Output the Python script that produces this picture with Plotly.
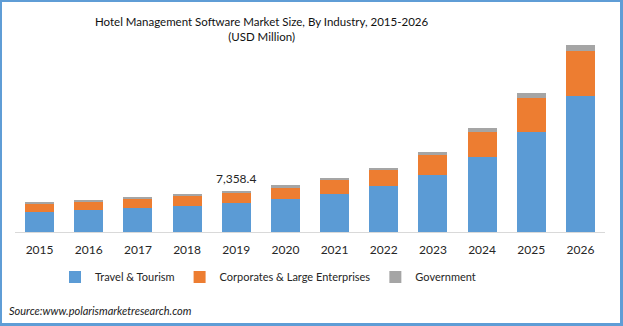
import plotly.graph_objects as go

years = ["2015", "2016", "2017", "2018", "2019", "2020", "2021", "2022", "2023", "2024", "2025", "2026"]
travel = [3620, 3970, 4330, 4680, 5165, 5870, 6820, 8240, 10150, 13350, 17850, 24260]
corporates = [1420, 1420, 1550, 1780, 1780, 1960, 2440, 2790, 3560, 4500, 6050, 8010]
government = [180, 300, 360, 180, 413.4, 530, 360, 410, 530, 660, 890, 1010]
series_names = ["Travel & Tourism", "Corporates & Large Enterprises", "Government"]
colors = ["#5b9bd5", "#ed7d31", "#a5a5a5"]
label_year = "2019"
label_text = "7,358.4"

W, H = 623, 326
L, R, T, B = 15, 18, 40, 94
pw, ph = W - L - R, H - T - B

def px_x(x):
    return (x - L) / pw

def px_y(y):
    return (H - B - y) / ph

FONT = "Lato"

fig = go.Figure()
for name, vals, c in zip(series_names, [travel, corporates, government], colors):
    fig.add_trace(go.Bar(x=years, y=vals, name=name, marker=dict(color=c, line=dict(width=0))))

idx = years.index(label_year)
total = travel[idx] + corporates[idx] + government[idx]

fig.add_annotation(x=idx, y=total, text=label_text, showarrow=False,
                   yanchor="bottom", yshift=3, font=dict(family=FONT, size=12, color="#262626"))

fig.add_annotation(xref="paper", yref="paper", x=px_x(261), y=px_y(29), yanchor="middle",
                   text="Hotel Management Software Market Size, By Industry, 2015-2026<br>(USD Million)",
                   showarrow=False, font=dict(family=FONT, size=11.5, color="#111111"), align="center")

fig.add_annotation(xref="paper", yref="paper", x=px_x(7), y=px_y(310), xanchor="left", yanchor="middle",
                   text="<i>Source:www.polarismarketresearch.com</i>", showarrow=False,
                   font=dict(family=FONT, size=11, color="#1a1a1a"))

bc = "#5f9dd6"
for (x0, y0, x1, y1) in [(0, 0, 2, H), (0, 0, W, 2), (620, 0, W, H), (0, 323, W, H)]:
    fig.add_shape(type="rect", xref="paper", yref="paper",
                  x0=px_x(x0), x1=px_x(x1), y0=px_y(y0), y1=px_y(y1),
                  fillcolor=bc, line=dict(width=0), layer="above")

fig.update_layout(
    width=W, height=H, barmode="stack", bargap=0.41,
    margin=dict(l=L, r=R, t=T, b=B, pad=0, autoexpand=False),
    paper_bgcolor="white", plot_bgcolor="white",
    showlegend=True,
    legend=dict(orientation="h", x=px_x(268), xanchor="center", y=px_y(277), yanchor="middle",
                font=dict(family=FONT, size=11, color="#262626"), traceorder="normal",
                itemwidth=30, tracegroupgap=0, bgcolor="rgba(0,0,0,0)"),
    xaxis=dict(type="category", range=[-0.5, len(years) - 0.5], showgrid=False, showline=True,
               linecolor="#d9d9d9", linewidth=1, ticks="", automargin=False,
               tickfont=dict(family=FONT, size=12, color="#262626"), ticklabelstandoff=7),
    yaxis=dict(visible=False, range=[0, ph * 178], automargin=False),
)

fig.write_html("out.html")
